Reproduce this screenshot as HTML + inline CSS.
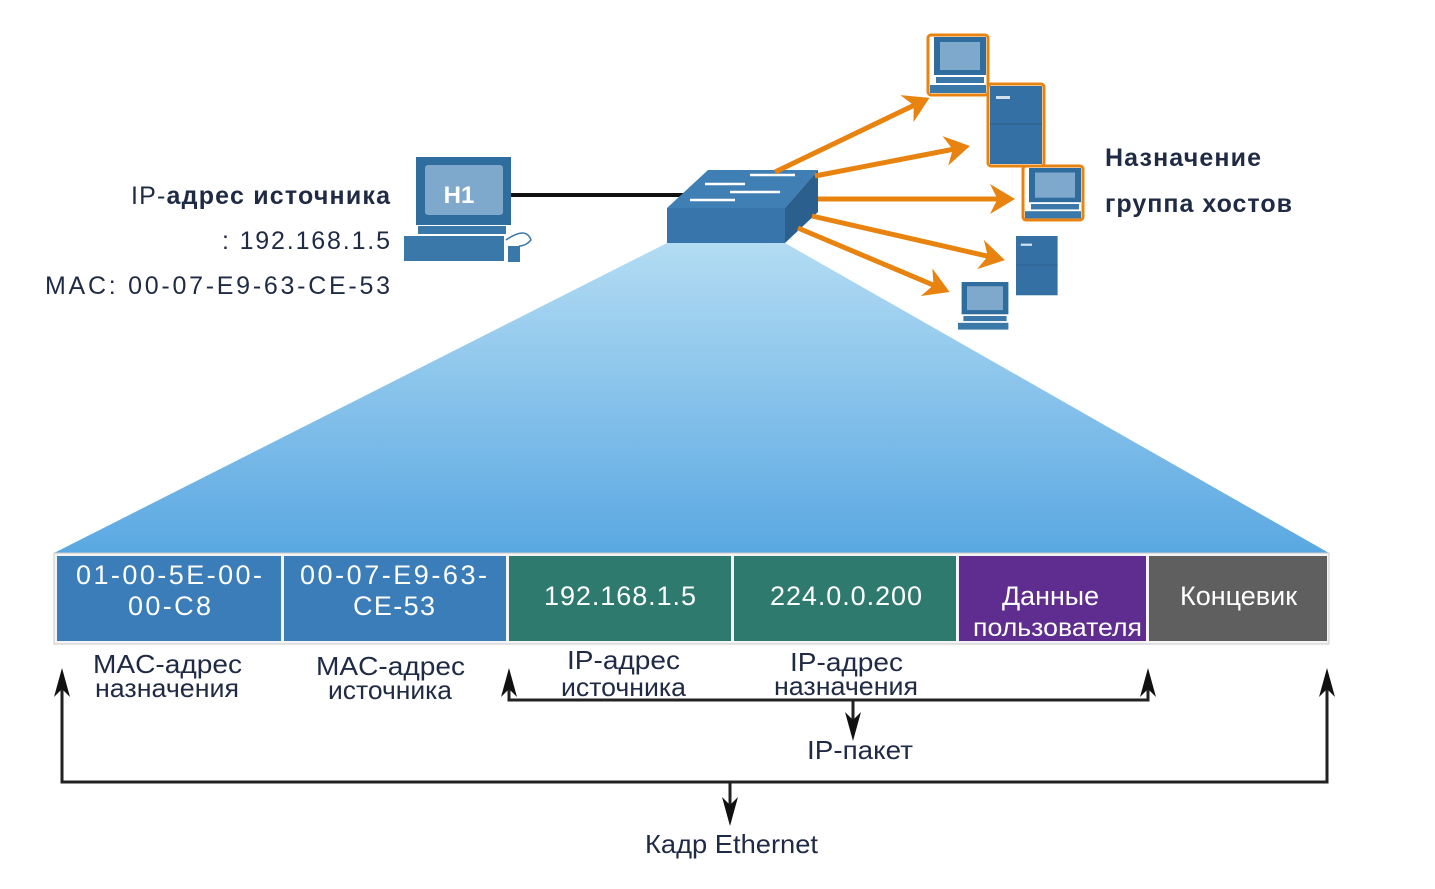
<!DOCTYPE html>
<html><head><meta charset="utf-8"><style>
html,body{margin:0;padding:0;background:#fff;}
svg{display:block;font-family:"Liberation Sans","DejaVu Sans",sans-serif;}
</style></head><body>
<svg width="1435" height="889" viewBox="0 0 1435 889" xmlns="http://www.w3.org/2000/svg">
<defs>
<linearGradient id="fan" x1="0" y1="0" x2="0" y2="1">
<stop offset="0" stop-color="#b3dcf3"/><stop offset="1" stop-color="#5aa8e2"/></linearGradient>
<marker id="oa" markerWidth="6" markerHeight="6" refX="4" refY="3" orient="auto" markerUnits="strokeWidth">
<path d="M0,0 L5,3 L0,6 L1.5,3 Z" fill="#e8830f"/></marker>
<g id="pc">
<rect x="4" y="0" width="52" height="38" fill="#2f6d9e"/>
<rect x="10" y="5" width="40" height="28" fill="#7fa9cc"/>
<rect x="6" y="40" width="48" height="6" fill="#3a78aa"/>
<rect x="0" y="48" width="56" height="8" fill="#3a78aa"/>
</g>
<g id="srv">
<rect x="0" y="0" width="52" height="78" fill="#3570a5"/>
<rect x="6" y="10" width="14" height="3" fill="#cfe0ee"/>
<line x1="0" y1="38" x2="52" y2="38" stroke="#2b5f8e"/>
</g>
</defs>

<polygon points="667,243 785,243 1329,553 54,553" fill="url(#fan)"/>

<rect x="416" y="157" width="95" height="68" fill="#2f6d9e"/>
<rect x="425" y="165" width="78" height="50" fill="#7fa9cc" rx="3"/>
<text x="459" y="203" font-size="24" font-weight="bold" fill="#fff" text-anchor="middle">H1</text>
<rect x="418" y="226" width="88" height="8" fill="#3a78aa"/>
<rect x="404" y="236" width="100" height="25" fill="#3a78aa"/>
<rect x="508" y="246" width="12" height="16" fill="#3a78aa"/>
<path d="M506,240 q20,-14 25,0 q-5,6 -12,6" stroke="#3a78aa" fill="none" stroke-width="1.5"/>
<line x1="511" y1="195" x2="688" y2="195" stroke="#111" stroke-width="4"/>

<polygon points="667,208 708,170 818,170 785,208" fill="#3f7fb3"/>
<polygon points="785,208 818,170 818,212 785,243" fill="#2b5f8e"/>
<rect x="667" y="208" width="118" height="35" fill="#3775aa"/>
<g stroke="#fff" stroke-width="2.5">
<line x1="750" y1="175" x2="795" y2="175"/><line x1="705" y1="184" x2="745" y2="184"/>
<line x1="730" y1="192" x2="780" y2="192"/><line x1="690" y1="200" x2="735" y2="200"/></g>

<g stroke="#e8830f" stroke-width="5" fill="none" marker-end="url(#oa)">
<line x1="775" y1="172" x2="925" y2="100"/>
<line x1="815" y1="176" x2="965" y2="147"/>
<line x1="818" y1="199" x2="1010" y2="199"/>
<line x1="812" y1="216" x2="1000" y2="259"/>
<line x1="798" y1="228" x2="945" y2="290"/>
</g>

<g transform="translate(930,37)"><rect x="-2" y="-2" width="60" height="60" fill="none" stroke="#e8830f" stroke-width="3" rx="3"/><use href="#pc"/></g>
<g transform="translate(990,86)"><rect x="-2" y="-2" width="56" height="82" fill="none" stroke="#e8830f" stroke-width="3" rx="3"/><use href="#srv"/></g>
<g transform="translate(1025,168)"><rect x="-2" y="-2" width="60" height="54" fill="none" stroke="#e8830f" stroke-width="3" rx="3"/><g transform="scale(1,0.9)"><use href="#pc"/></g></g>
<g transform="translate(1016,236)"><g transform="scale(0.8,0.76)"><use href="#srv"/></g></g>
<g transform="translate(958,282)"><g transform="scale(0.9,0.85)"><use href="#pc"/></g></g>

<g fill="#1f2a44" font-size="25">
<text x="131" y="204" textLength="259" lengthAdjust="spacing">IP-<tspan font-weight="bold">адрес источника</tspan></text>
<text x="222" y="249" textLength="168" lengthAdjust="spacing">: 192.168.1.5</text>
<text x="45" y="294" textLength="345" lengthAdjust="spacing">MAC: 00-07-E9-63-CE-53</text>
</g>
<g fill="#1f2a44" font-size="25" font-weight="bold">
<text x="1105" y="166" textLength="156" lengthAdjust="spacing">Назначение</text>
<text x="1105" y="212" textLength="187" lengthAdjust="spacing">группа хостов</text>
</g>

<rect x="54" y="553" width="1275" height="91" fill="#f4f4f4" stroke="#c8c8c8"/>
<rect x="57" y="556" width="224" height="85" fill="#3a7db8"/>
<rect x="284" y="556" width="222" height="85" fill="#3a7db8"/>
<rect x="509" y="556" width="222" height="85" fill="#2f7a6e"/>
<rect x="734" y="556" width="222" height="85" fill="#2f7a6e"/>
<rect x="959" y="556" width="187" height="85" fill="#5e2d8f"/>
<rect x="1149" y="556" width="178" height="85" fill="#5f5f5f"/>
<g fill="#fff" font-size="27">
<text x="76" y="584" textLength="186" lengthAdjust="spacing">01-00-5E-00-</text><text x="128" y="615" textLength="83" lengthAdjust="spacing">00-C8</text>
<text x="300" y="584" textLength="187" lengthAdjust="spacing">00-07-E9-63-</text><text x="353" y="615" textLength="82" lengthAdjust="spacing">CE-53</text>
<text x="544" y="605" textLength="152" lengthAdjust="spacing">192.168.1.5</text>
<text x="770" y="605" textLength="152" lengthAdjust="spacing">224.0.0.200</text>
<text x="1002" y="605" textLength="97" lengthAdjust="spacingAndGlyphs">Данные</text><text x="973" y="636" font-size="25" textLength="169" lengthAdjust="spacingAndGlyphs">пользователя</text>
<text x="1180" y="605" textLength="117" lengthAdjust="spacingAndGlyphs">Концевик</text>
</g>

<g fill="#1f2a44" font-size="26">
<text x="93" y="673" textLength="149" lengthAdjust="spacingAndGlyphs">MAC-адрес</text><text x="95" y="697" textLength="144" lengthAdjust="spacingAndGlyphs">назначения</text>
<text x="316" y="675" textLength="149" lengthAdjust="spacingAndGlyphs">MAC-адрес</text><text x="328" y="699" textLength="124" lengthAdjust="spacingAndGlyphs">источника</text>
<text x="567" y="669" textLength="113" lengthAdjust="spacingAndGlyphs">IP-адрес</text><text x="561" y="696" textLength="125" lengthAdjust="spacingAndGlyphs">источника</text>
<text x="790" y="671" textLength="113" lengthAdjust="spacingAndGlyphs">IP-адрес</text><text x="774" y="695" textLength="144" lengthAdjust="spacingAndGlyphs">назначения</text>
<text x="807" y="759" textLength="106" lengthAdjust="spacingAndGlyphs">IP-пакет</text>
<text x="645" y="853" textLength="173" lengthAdjust="spacingAndGlyphs">Кадр Ethernet</text>
</g>

<g stroke="#222" stroke-width="3" fill="none">
<polyline points="509,680 509,700 1148,700 1148,680"/>
<line x1="853" y1="700" x2="853" y2="730"/>
<polyline points="62,685 62,782 1327,782 1327,685"/>
<line x1="730" y1="782" x2="730" y2="815"/>
</g>
<g fill="#111">
<path d="M509,668 L501,697 L509,689 L517,697 Z"/>
<path d="M1148,668 L1140,697 L1148,689 L1156,697 Z"/>
<path d="M62,668 L54,697 L62,689 L70,697 Z"/>
<path d="M1327,668 L1319,697 L1327,689 L1335,697 Z"/>
<path d="M853,741 L845,712 L853,720 L861,712 Z"/>
<path d="M730,826 L722,797 L730,805 L738,797 Z"/>
</g>
</svg>
</body></html>
